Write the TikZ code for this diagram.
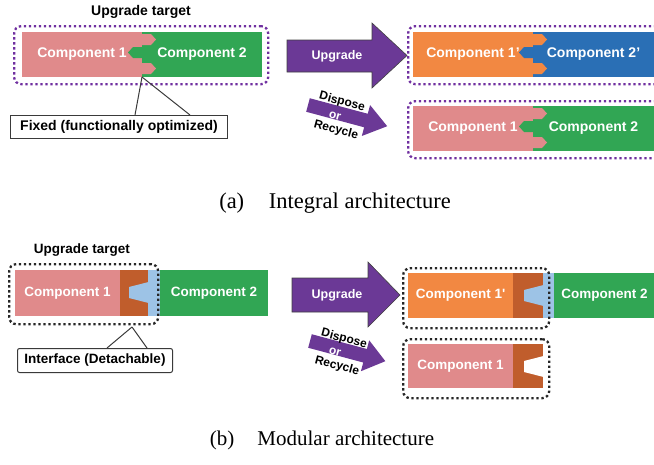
\documentclass[tikz,border=0pt]{standalone}
\usepackage{fontspec}
\setmainfont{Liberation Serif}
\newfontfamily\labfont[Ligatures=TeXOff]{Liberation Sans}
\usetikzlibrary{calc}

\definecolor{pinkc}{HTML}{E08A8B}
\definecolor{greenc}{HTML}{31A654}
\definecolor{orangec}{HTML}{F28842}
\definecolor{bluec}{HTML}{2A6FB5}
\definecolor{brownc}{HTML}{C05D2C}
\definecolor{ltbluec}{HTML}{9DC3E6}
\definecolor{purplec}{HTML}{6B3996}
\definecolor{dotpurple}{HTML}{7030A0}
\definecolor{leaderc}{HTML}{3A3A3A}

% puzzle joint between two integral components
% #1 boundary x, #2 top y, #3 left colour, #4 right colour
\newcommand\puzzletabs[4]{%
  \fill[#3] (#1-0.5,#2+2) -- ++(9.5,0) -- ++(5,5.5) -- ++(-5,5.5) -- ++(-9.5,0) -- cycle;
  \fill[#3] (#1-0.5,#2+31) -- ++(9.5,0) -- ++(5,5.5) -- ++(-5,5.5) -- ++(-9.5,0) -- cycle;
  \fill[#4] (#1+0.5,#2+15) -- ++(-9.5,0) -- ++(-5,5.5) -- ++(5,5.5) -- ++(9.5,0) -- cycle;
}
% dovetail wedge of a detachable interface
% #1 right edge of the brown block, #2 top y, #3 fill
\newcommand\ifacewedge[3]{%
  \fill[#3] (#1+0.6,#2+12) -- (#1-19,#2+17) -- (#1-19,#2+28) -- (#1+0.6,#2+33) -- cycle;
}

\tikzset{
  blk/.style={inner sep=0pt, outer sep=0pt, anchor=north west, text=white,
    font=\labfont\bfseries\fontsize{14}{16}\selectfont},
  blkb/.style={blk, font=\labfont\bfseries\fontsize{13.5}{16}\selectfont},
  dotbox/.style={draw=dotpurple, line width=2.3pt, dash pattern=on 2.4pt off 2.6pt,
    rounded corners=7pt, inner sep=0pt, anchor=north west},
  dotboxk/.style={dotbox, draw=black!85},
  callout/.style={draw=leaderc, line width=1pt, fill=white, inner sep=0pt,
    anchor=north west, font=\labfont\bfseries\fontsize{14}{16}\selectfont},
  leader/.style={draw=leaderc, line width=1pt},
  bigarrow/.style={fill=purplec, draw=black!75, line width=0.6pt},
  smallarrow/.style={fill=purplec},
  arrowtxt/.style={text=white, font=\labfont\bfseries\fontsize{12.5}{14}\selectfont},
  disptxt/.style={rotate=-15, inner sep=0pt,
    font=\labfont\bfseries\fontsize{12}{14}\selectfont},
  heading/.style={font=\labfont\bfseries\fontsize{14}{16}\selectfont},
  caption/.style={font=\fontsize{22.5}{26}\selectfont}
}

\begin{document}
\begin{tikzpicture}[x=1pt,y=-1pt]
\useasboundingbox (0,0) rectangle (654,464);
\clip (0,0) rectangle (654,464);

% ---------------- (a) integral architecture ----------------
\node[heading] (headA) at (141,12) {Upgrade target};

\node[blk, fill=pinkc, minimum width=120, minimum height=45] (a1) at (22,32) {Component 1};
\node[blk, fill=greenc, minimum width=120, minimum height=45] (a2) at (142,32) {Component 2};
\puzzletabs{142}{32}{pinkc}{greenc}
\node[dotbox, minimum width=254, minimum height=58] (tgtA) at (13,25) {};

\coordinate (fixA) at (142,77);
\node[callout, minimum width=217, minimum height=23] (lblA) at (10,115) {Fixed (functionally optimized)};
\draw[leader] (fixA) -- ($(lblA.north west)+(125,0)$);
\draw[leader] (fixA) -- ($(lblA.north west)+(180,0)$);

% upgrade arrow
\draw[bigarrow] (287,40) -- (372,40) -- (372,23) -- (407,55.5) -- (372,88) -- (372,72) -- (287,72) -- cycle;
\node[arrowtxt] (upTxtA) at (337,56) {Upgrade};

% dispose / recycle arrow
\begin{scope}[shift={(308,105)}, rotate=-15]
  \fill[smallarrow] (0,-7) -- (60,-7) -- (60,-16) -- (82,0) -- (60,16) -- (60,7) -- (0,7) -- cycle;
\end{scope}
\node[disptxt] (dispA1) at (342,102) {Dispose};
\node[disptxt, text=white] (dispA2) at (335,116) {or};
\node[disptxt] (dispA3) at (336,130) {Recycle};

% upgraded product
\node[blk, fill=orangec, minimum width=120, minimum height=45] (a1u) at (413,32) {Component 1’};
\node[blk, fill=bluec, minimum width=121, minimum height=45] (a2u) at (533,32) {Component 2’};
\puzzletabs{533}{32}{orangec}{bluec}
\node[dotbox, minimum width=270, minimum height=58] (upA) at (407,25) {};

% discarded product
\node[blk, fill=pinkc, minimum width=120, minimum height=45] (a1d) at (413,106) {Component 1};
\node[blk, fill=greenc, minimum width=121, minimum height=45] (a2d) at (533,106) {Component 2};
\puzzletabs{533}{106}{pinkc}{greenc}
\node[dotbox, minimum width=270, minimum height=57] (dispA) at (407,100) {};

\node[caption] (capA) at (335,203) {(a)\hspace{1.1em}Integral architecture};

% ---------------- (b) modular architecture ----------------
\node[heading, font=\labfont\bfseries\fontsize{13.5}{16}\selectfont] (headB) at (82,250) {Upgrade target};

\node[blkb, fill=pinkc, minimum width=105, minimum height=46] (b1) at (15,270) {Component 1};
\node[blkb, fill=brownc, minimum width=28, minimum height=46] (bif) at (120,270) {};
\node[blkb, fill=ltbluec, minimum width=12, minimum height=46] (bstrip) at (148,270) {};
\node[blkb, fill=greenc, minimum width=108, minimum height=46] (b2) at (160,270) {Component 2};
\ifacewedge{148}{270}{ltbluec}
\node[dotboxk, minimum width=149, minimum height=60] (tgtB) at (8,263) {};

\coordinate (ifB) at (132,327);
\node[callout, rounded corners=2pt, minimum width=155, minimum height=24,
      font=\labfont\bfseries\fontsize{13.5}{16}\selectfont] (lblB) at (17,348) {Interface (Detachable)};
\draw[leader] (ifB) -- ($(lblB.north west)+(90,0)$);
\draw[leader] (ifB) -- ($(lblB.north west)+(130,0)$);

% upgrade arrow
\draw[bigarrow] (292,278) -- (368,278) -- (368,262) -- (400,295) -- (368,327) -- (368,312) -- (292,312) -- cycle;
\node[arrowtxt] (upTxtB) at (337,295) {Upgrade};

% dispose / recycle arrow
\begin{scope}[shift={(310,341)}, rotate=-15]
  \fill[smallarrow] (0,-7) -- (57,-7) -- (57,-16) -- (78,0) -- (57,16) -- (57,7) -- (0,7) -- cycle;
\end{scope}
\node[disptxt] (dispB1) at (344,339) {Dispose};
\node[disptxt, text=white] (dispB2) at (335,352) {or};
\node[disptxt] (dispB3) at (337,366) {Recycle};

% upgraded product
\node[blkb, fill=orangec, minimum width=105, minimum height=45] (b1u) at (408,273) {Component 1'};
\node[blkb, fill=brownc, minimum width=30, minimum height=45] (bifu) at (513,273) {};
\node[blkb, fill=ltbluec, minimum width=11, minimum height=45] (bstripu) at (543,273) {};
\node[blkb, fill=greenc, minimum width=101, minimum height=45] (b2u) at (554,273) {Component 2};
\ifacewedge{543}{273}{ltbluec}
\node[dotboxk, minimum width=146, minimum height=60] (upB) at (402,267) {};

% removed module
\node[blkb, fill=pinkc, minimum width=105, minimum height=44] (b1d) at (408,344) {Component 1};
\node[blkb, fill=brownc, minimum width=30, minimum height=44] (bifd) at (513,344) {};
\ifacewedge{543}{344}{white}
\node[dotboxk, minimum width=146, minimum height=59] (dispB) at (402,338) {};

\node[caption, font=\fontsize{21}{24}\selectfont] (capB) at (322,440) {(b)\hspace{1.1em}Modular architecture};
\end{tikzpicture}
\end{document}
